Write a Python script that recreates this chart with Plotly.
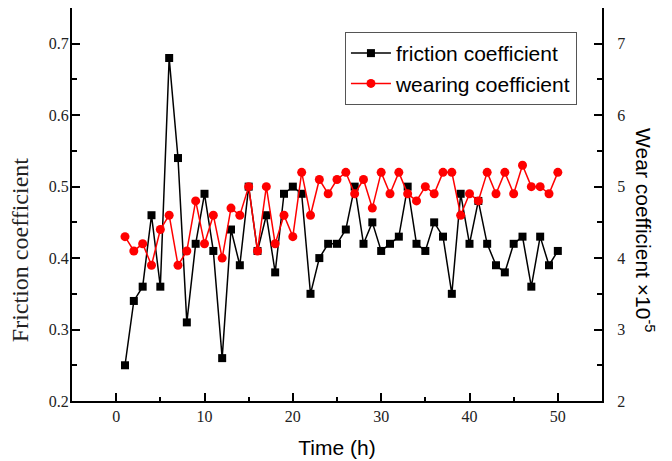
import plotly.graph_objects as go

time_h = list(range(1, 51))
friction = [0.25, 0.34, 0.36, 0.46, 0.36, 0.68, 0.54, 0.31, 0.42, 0.49,
            0.41, 0.26, 0.44, 0.39, 0.50, 0.41, 0.46, 0.38, 0.49, 0.50,
            0.49, 0.35, 0.40, 0.42, 0.42, 0.44, 0.50, 0.42, 0.45, 0.41,
            0.42, 0.43, 0.50, 0.42, 0.41, 0.45, 0.43, 0.35, 0.49, 0.42,
            0.48, 0.42, 0.39, 0.38, 0.42, 0.43, 0.36, 0.43, 0.39, 0.41]
wear = [4.3, 4.1, 4.2, 3.9, 4.4, 4.6, 3.9, 4.1, 4.8, 4.2,
        4.6, 4.0, 4.7, 4.6, 5.0, 4.1, 5.0, 4.2, 4.6, 4.3,
        5.2, 4.6, 5.1, 4.9, 5.1, 5.2, 4.9, 5.1, 4.7, 5.2,
        4.9, 5.2, 4.9, 4.8, 5.0, 4.9, 5.2, 5.2, 4.6, 4.9,
        4.8, 5.2, 4.9, 5.2, 4.9, 5.3, 5.0, 5.0, 4.9, 5.2]

x_ticks = [0, 10, 20, 30, 40, 50]
y_ticks = [0.2, 0.3, 0.4, 0.5, 0.6, 0.7]
y2_ticks = [2, 3, 4, 5, 6, 7]

SERIF = "Liberation Serif, Times New Roman, serif"
SANS = "Liberation Sans, Arial, sans-serif"

fig = go.Figure()
fig.add_trace(go.Scatter(
    x=time_h, y=friction, name="friction coefficient", mode="lines+markers",
    line=dict(color="black", width=1.5),
    marker=dict(symbol="square", size=8, color="black"),
))
fig.add_trace(go.Scatter(
    x=time_h, y=wear, name="wearing coefficient", mode="lines+markers",
    yaxis="y2",
    line=dict(color="#FF0000", width=1.5),
    marker=dict(symbol="circle", size=9, color="#FF0000"),
))

fig.update_layout(
    width=664, height=453,
    margin=dict(l=64, r=70, t=0, b=60, autoexpand=False),
    plot_bgcolor="white", paper_bgcolor="white",
    showlegend=True,
    legend=dict(
        x=0.515, y=0.939, xanchor="left", yanchor="top",
        bordercolor="#555555", borderwidth=1, bgcolor="white",
        font=dict(family=SANS, size=21, color="black"),
        tracegroupgap=0, itemwidth=40,
    ),
    xaxis=dict(
        range=[-5, 55], tickvals=x_ticks, ticktext=[str(v) for v in x_ticks],
        ticks="inside", ticklen=8, tickwidth=1.5, tickcolor="black",
        minor=dict(ticks="inside", ticklen=4, dtick=5, tick0=0, tickcolor="black", tickwidth=1.5),
        showline=True, linecolor="black", linewidth=2, mirror=True,
        showgrid=False, zeroline=False, automargin=False,
        tickfont=dict(family=SERIF, size=16, color="#222222"),
        title=dict(text="Time (h)", font=dict(family=SANS, size=21, color="black"), standoff=16),
    ),
    yaxis=dict(
        range=[0.2, 0.75], tickvals=y_ticks, ticktext=[f"{v:.1f}" for v in y_ticks],
        ticks="inside", ticklen=8, tickwidth=1.5, tickcolor="black",
        minor=dict(ticks="inside", ticklen=5, dtick=0.05, tick0=0.2, tickcolor="black", tickwidth=1.5),
        showline=True, linecolor="black", linewidth=2,
        showgrid=False, zeroline=False, automargin=False,
        ticklabelstandoff=-2,
        tickfont=dict(family=SERIF, size=16, color="#222222"),
    ),
    yaxis2=dict(
        overlaying="y", side="right",
        range=[2, 7.5], tickvals=y2_ticks, ticktext=[str(v) for v in y2_ticks],
        ticks="inside", ticklen=8, tickwidth=1.5, tickcolor="black",
        minor=dict(ticks="inside", ticklen=5, dtick=0.5, tick0=2, tickcolor="black", tickwidth=1.5),
        showline=True, linecolor="black", linewidth=2,
        showgrid=False, zeroline=False, automargin=False,
        ticklabelstandoff=10,
        tickfont=dict(family=SERIF, size=16, color="#222222"),
    ),
    annotations=[
        dict(text="Friction coefficient", xref="paper", yref="paper",
             x=-0.098, y=0.384, xanchor="center", yanchor="middle",
             textangle=-90, showarrow=False,
             font=dict(family=SERIF, size=24, color="#222222")),
        dict(text="Wear coefficient ×10<sup>-5</sup>", xref="paper", yref="paper",
             x=1.081, y=0.435, xanchor="center", yanchor="middle",
             textangle=90, showarrow=False,
             font=dict(family=SANS, size=21, color="black")),
    ],
)

fig.write_html("out.html")
